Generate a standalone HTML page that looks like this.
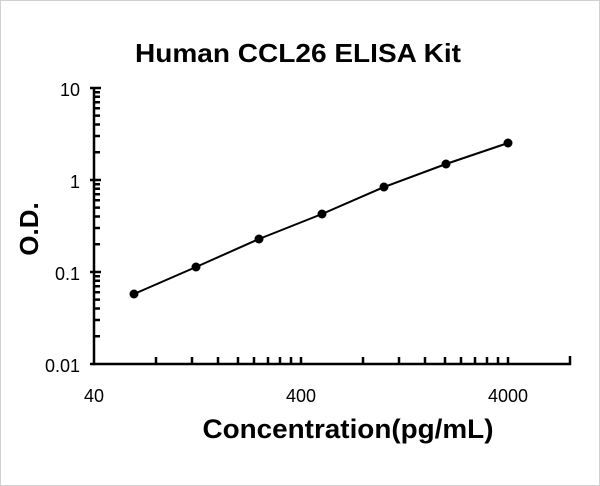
<!DOCTYPE html><html><head><style>body{margin:0;background:#fff}svg{display:block}text{font-family:"Liberation Sans",Arial,sans-serif}</style></head><body>
<svg width="600" height="486" xmlns="http://www.w3.org/2000/svg">
<rect x="0.5" y="0.5" width="599" height="485" fill="#fff" stroke="#d0d0d0"/>
<text x="298" y="62" font-size="26" font-weight="bold" text-anchor="middle" textLength="326" lengthAdjust="spacingAndGlyphs">Human CCL26 ELISA Kit</text>
<text transform="translate(38,229) rotate(-90)" font-size="26" font-weight="bold" text-anchor="middle">O.D.</text>
<text x="348" y="438" font-size="27" font-weight="bold" text-anchor="middle" textLength="291" lengthAdjust="spacingAndGlyphs">Concentration(pg/mL)</text>
<g font-size="18" fill="#000">
<text x="80" y="96" text-anchor="end">10</text>
<text x="80" y="188" text-anchor="end">1</text>
<text x="80" y="280" text-anchor="end">0.1</text>
<text x="80" y="372" text-anchor="end">0.01</text>
<text x="94" y="402" text-anchor="middle">40</text>
<text x="301" y="402" text-anchor="middle">400</text>
<text x="508" y="402" text-anchor="middle">4000</text>
</g>
<g stroke="#000" stroke-width="2.5" fill="none">
<path d="M94,88 V364 H570 V356"/>
<path d="M90,88h11M90,180h11M90,272h11M90,364h5"/>
<path d="M94,152.3h6M94,136h6M94,124.5h6M94,115.6h6M94,108.3h6M94,102.2h6M94,96.8h6M94,92.2h6
M94,244.3h6M94,228h6M94,216.5h6M94,207.6h6M94,200.3h6M94,194.2h6M94,188.8h6M94,184.2h6
M94,336.3h6M94,320h6M94,308.5h6M94,299.6h6M94,292.3h6M94,286.2h6M94,280.8h6M94,276.2h6"/>
<path d="M156,364v-7M192,364v-7M218,364v-7M238,364v-7M254,364v-7M268,364v-7M280,364v-7M291,364v-7M301,364v-7
M363,364v-7M399,364v-7M425,364v-7M445,364v-7M461,364v-7M475,364v-7M487,364v-7M498,364v-7M508,364v-7"/>
<polyline points="134,294 196,267 259,239 322,214 384,187 446,164 508,143" stroke-width="2"/>
</g>
<g fill="#000"><circle cx="134" cy="294" r="4.5"/><circle cx="196" cy="267" r="4.5"/><circle cx="259" cy="239" r="4.5"/><circle cx="322" cy="214" r="4.5"/><circle cx="384" cy="187" r="4.5"/><circle cx="446" cy="164" r="4.5"/><circle cx="508" cy="143" r="4.5"/></g>
</svg></body></html>
